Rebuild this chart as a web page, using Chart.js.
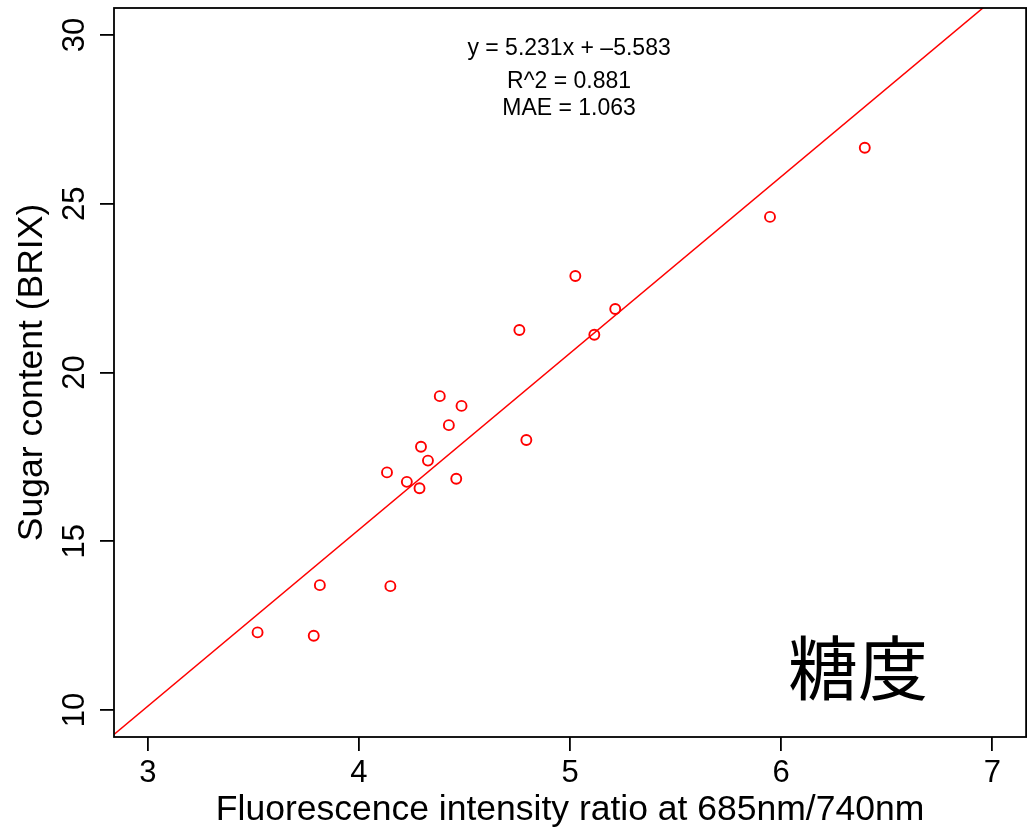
<!DOCTYPE html>
<html>
<head>
<meta charset="utf-8">
<script src="https://cdn.jsdelivr.net/npm/chart.js@4.4.1/dist/chart.umd.min.js"></script>
<style>
    html, body { margin: 0; padding: 0; background: #fff; }
    #wrap { width: 1033px; height: 828px; position: relative; }
</style>
</head>
<body>
<div id="wrap"><canvas id="brixChart"></canvas></div>
<script>
// Measured samples: fluorescence ratio vs sugar content
const ratio = [3.520, 3.786, 3.815, 4.149, 4.133, 4.227, 4.287, 4.294, 4.327, 4.383,
               4.426, 4.461, 4.486, 4.760, 4.793, 5.025, 5.115, 5.214, 5.947, 6.396];
const brix  = [12.30, 12.20, 13.70, 13.67, 17.04, 16.76, 16.57, 17.80, 17.39, 19.30,
               18.44, 16.85, 19.01, 21.26, 18.00, 22.86, 21.12, 21.88, 24.61, 26.66];

// Axes
const xTicks = [3, 4, 5, 6, 7];
const yTicks = [10, 15, 20, 25, 30];
const xRange = [2.84, 7.16];
const yRange = [9.2, 30.8];

// Fit (from the figure's annotation)
const fitSlope = 5.231;
const fitIntercept = -5.583;
const statLines = ["y = 5.231x + \u20135.583", "R^2 = 0.881", "MAE = 1.063"];
const cornerLabel = "糖度";

const FONT = "'Liberation Sans', Arial, Helvetica, sans-serif";

const fitLine = xRange.map(x => ({ x: x, y: fitSlope * x + fitIntercept }));

// Box + rotated y labels + annotations (R base-graphics look)
const extrasPlugin = {
    id: "extras",
    afterDraw(chart) {
        const { ctx, chartArea, scales } = chart;
        ctx.save();

        // plot box
        ctx.strokeStyle = "#000";
        ctx.lineWidth = 1.8;
        ctx.strokeRect(chartArea.left, chartArea.top,
                       chartArea.right - chartArea.left, chartArea.bottom - chartArea.top);

        // y tick labels, rotated like R's default las=0
        ctx.fillStyle = "#000";
        ctx.font = "31px " + FONT;
        ctx.textAlign = "center";
        ctx.textBaseline = "middle";
        yTicks.forEach(v => {
            const y = scales.y.getPixelForValue(v);
            ctx.save();
            ctx.translate(75, y);
            ctx.rotate(-Math.PI / 2);
            ctx.fillText(String(v), 0, 0);
            ctx.restore();
        });

        // regression stats
        const cx = (chartArea.left + chartArea.right) / 2 - 1;
        ctx.font = "23px " + FONT;
        ctx.textBaseline = "alphabetic";
        ctx.fillText(statLines[0], cx, chartArea.top + 47);
        ctx.fillText(statLines[1], cx, chartArea.top + 80);
        ctx.fillText(statLines[2], cx, chartArea.top + 107);

        // corner label
        ctx.font = "70px 'Noto Sans CJK JP', 'Noto Sans CJK SC', sans-serif";
        ctx.textBaseline = "middle";
        ctx.fillText(cornerLabel, 858, 668);

        ctx.restore();
    }
};

const ctx = document.getElementById("brixChart").getContext("2d");
const brixChart = new Chart(ctx, {
    type: "scatter",
    data: {
        datasets: [
            {
                label: "samples",
                data: ratio.map((x, i) => ({ x: x, y: brix[i] })),
                borderColor: "#ff0000",
                backgroundColor: "rgba(0,0,0,0)",
                borderWidth: 1.9,
                pointRadius: 5,
                pointHoverRadius: 5
            },
            {
                type: "line",
                label: "fit",
                data: fitLine,
                borderColor: "#ff0000",
                borderWidth: 1.5,
                pointRadius: 0,
                fill: false
            }
        ]
    },
    options: {
        responsive: true,
        maintainAspectRatio: false,
        animation: false,
        layout: { padding: { top: 8, right: 5, left: 0, bottom: 0 } },
        plugins: {
            legend: { display: false },
            tooltip: { enabled: false }
        },
        scales: {
            x: {
                type: "linear",
                min: xRange[0],
                max: xRange[1],
                afterBuildTicks: (scale) => { scale.ticks = xTicks.map(v => ({ value: v })); },
                afterFit: (scale) => { scale.height = 91; },
                border: { display: false },
                grid: { drawOnChartArea: false, drawTicks: true, tickLength: 14, color: "#000", lineWidth: 1.8 },
                ticks: { color: "#000", padding: 4, font: { family: FONT, size: 31 } },
                title: {
                    display: true,
                    text: "Fluorescence intensity ratio at 685nm/740nm",
                    color: "#000",
                    font: { family: FONT, size: 35.5, lineHeight: 1 },
                    padding: { top: 0, bottom: 0 }
                }
            },
            y: {
                type: "linear",
                min: yRange[0],
                max: yRange[1],
                afterBuildTicks: (scale) => { scale.ticks = yTicks.map(v => ({ value: v })); },
                afterFit: (scale) => { scale.width = 114; },
                border: { display: false },
                grid: { drawOnChartArea: false, drawTicks: true, tickLength: 14, color: "#000", lineWidth: 1.8 },
                ticks: { display: false },
                title: {
                    display: true,
                    text: "Sugar content (BRIX)",
                    color: "#000",
                    font: { family: FONT, size: 35.5, lineHeight: 1 },
                    padding: { top: 14, bottom: 0 }
                }
            }
        }
    },
    plugins: [extrasPlugin]
});
</script>
</body>
</html>
